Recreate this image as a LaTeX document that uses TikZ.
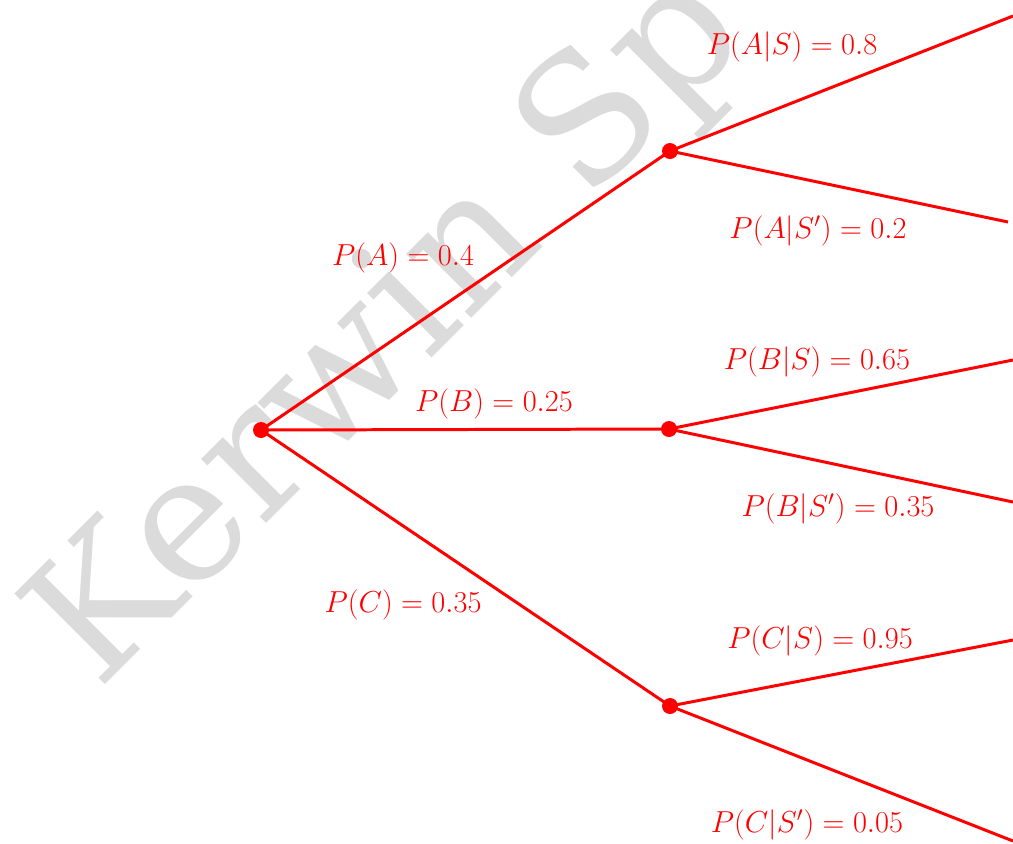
\documentclass[tikz,border=0pt]{standalone}
\usepackage{fontspec}
\newfontfamily\markfont{DejaVu Serif}
\usetikzlibrary{positioning}
\begin{document}
\begin{tikzpicture}[x=0.02cm,y=-0.02cm,
  dot/.style={circle,fill=red,inner sep=0pt,minimum size=0.32cm},
  branch/.style={red,line width=1.7pt},
  prob/.style={red,inner sep=0pt,font=\fontsize{17.5}{20}\selectfont}]
  \clip (0,0) rectangle (1013,843);

  % Watermark
  \node[anchor=base west,inner sep=0pt,rotate=45,text=black!14,
    font=\markfont\fontsize{100}{100}\selectfont] (mark) at (98,692) {Kerwin Sp};

  % Points
  \node[dot] (root) at (261,430) {};
  \node[dot] (a) at (670,151) {};
  \node[dot] (b) at (669,429) {};
  \node[dot] (c) at (670,706) {};
  \coordinate (as) at (1013,16);
  \coordinate (an) at (1008,222);
  \coordinate (bs) at (1013,360);
  \coordinate (bn) at (1013,502);
  \coordinate (cs) at (1013,640);
  \coordinate (cn) at (1013,841);

  % Branches
  \foreach \m in {a,b,c}
    \draw[branch] (root.center) -- (\m.center);
  \foreach \m/\e in {a/as,a/an,b/bs,b/bn,c/cs,c/cn}
    \draw[branch] (\m.center) -- (\e);

  % First stage
  \node[prob] (pa) at (403,258) {$P(A)=0.4$};
  \node[prob] (pb) at (494,404) {$P(B)=0.25$};
  \node[prob] (pc) at (403,605) {$P(C)=0.35$};

  % Second stage
  \node[prob] (pas) at (792,47) {$P(A|S)=0.8$};
  \node[prob] (pan) at (818,231) {$P(A|S')=0.2$};
  \node[prob] (pbs) at (817,362) {$P(B|S)=0.65$};
  \node[prob] (pbn) at (838,509) {$P(B|S')=0.35$};
  \node[prob] (pcs) at (820,641) {$P(C|S)=0.95$};
  \node[prob] (pcn) at (807,825) {$P(C|S')=0.05$};
\end{tikzpicture}
\end{document}
